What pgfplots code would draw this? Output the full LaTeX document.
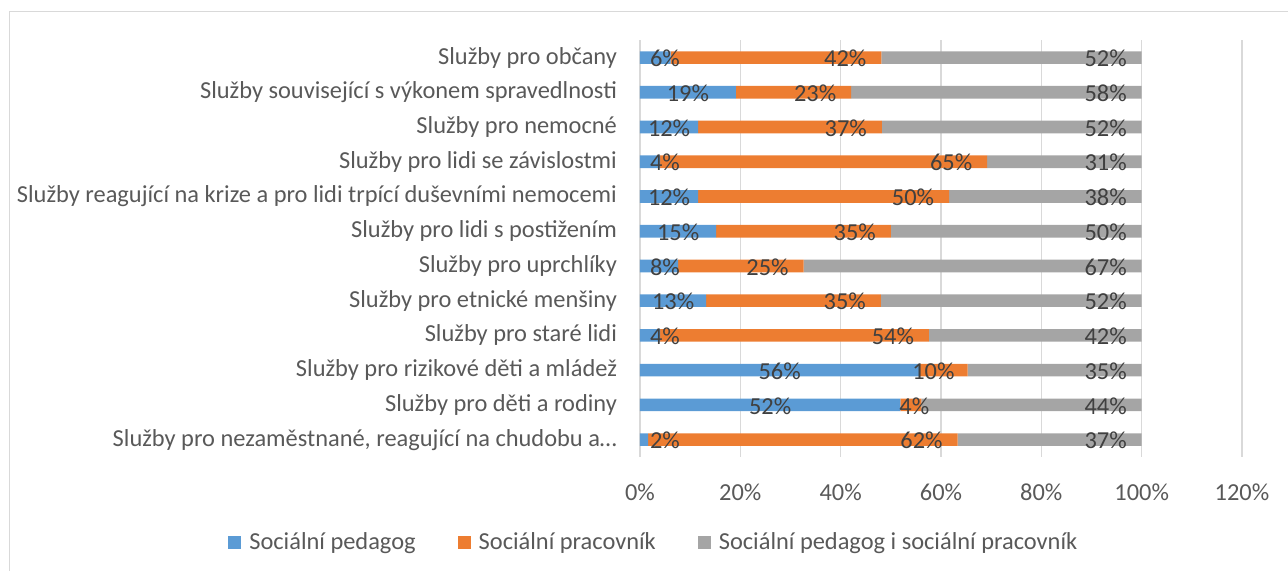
\documentclass[border=0pt]{standalone}
\usepackage{fontspec}
\setmainfont{Carlito}
\usepackage{pgfplots}
\pgfplotsset{compat=1.18}
\usepackage{pgfplotstable}

\definecolor{cPed}{HTML}{5B9BD5}
\definecolor{cPrac}{HTML}{ED7D31}
\definecolor{cOba}{HTML}{A5A5A5}
\definecolor{cGrid}{HTML}{D9D9D9}
\definecolor{cTick}{HTML}{595959}
\definecolor{cVal}{HTML}{404040}
\newcommand\lblfont{\fontsize{12.2}{14.6}\selectfont}
\newcommand\tickfont{\fontsize{12.2}{14.6}\selectfont}

% y = row from the bottom; shares in percent
\pgfplotstableread{
y  ped   prac  oba
0  1.6   61.7  36.7
1  51.9  4.2   43.9
2  55.7  9.6   34.7
3  4.0   53.6  42.4
4  13.2  34.8  52.0
5  7.6   25.0  67.4
6  15.2  34.8  50.0
7  11.6  50.0  38.4
8  4.0   65.2  30.8
9  11.6  36.6  51.8
10 19.1  23.0  57.9
11 6.1   42.0  51.9
}\sluzby

\begin{document}
\begin{tikzpicture}
\useasboundingbox (-320pt,-57pt) rectangle (324pt,228.5pt);
\draw[cGrid] (-315.5pt,-80pt) rectangle (340pt,223pt);
\begin{axis}[
    at={(0pt,0pt)}, anchor=south west,
    scale only axis, width=301pt, height=208.4pt,
    xbar stacked, bar width=6.3pt,
    xmin=0, xmax=120, ymin=-0.5, ymax=11.5,
    axis line style={draw=none}, major tick length=0pt,
    xmajorgrids, grid style={cGrid, line width=0.75pt},
    xtick={0,20,...,120},
    xticklabel={\pgfmathprintnumber{\tick}\%},
    ytick={0,...,11},
    yticklabels={{Služby pro nezaměstnané, reagující na chudobu a…},
        Služby pro děti a rodiny,
        Služby pro rizikové děti a mládež,
        Služby pro staré lidi,
        Služby pro etnické menšiny,
        Služby pro uprchlíky,
        Služby pro lidi s postižením,
        Služby reagující na krize a pro lidi trpící duševními nemocemi,
        Služby pro lidi se závislostmi,
        Služby pro nemocné,
        Služby související s výkonem spravedlnosti,
        Služby pro občany},
    /pgf/number format/assume math mode=true,
    tick label style={font=\tickfont, text=cTick},
    yticklabel style={xshift=-8pt},
    xticklabel style={yshift=-10pt},
    every axis plot/.append style={draw=none,
        visualization depends on={rawx \as \rawx}},
    point meta=rawx,
    nodes near coords={\pgfmathprintnumber[fixed,precision=0]{\pgfplotspointmeta}\%},
    % labels start at the segment centre: blue stays there, the others move to the end
    every node near coord/.append style={font=\lblfont, text=cVal, anchor=center,
        yshift=-0.5pt,
        xshift={\lblmode*max(0,-0.5*\rawx*2.50833+12.5)
            +(1-\lblmode)*max(0.5*\rawx*2.50833-18,-0.5*\rawx*2.50833+7)}},
    sq/.style={legend image code/.code={\fill[##1] (0pt,-3.25pt) rectangle (6.5pt,3.25pt);}},
    legend columns=3,
    legend style={at={(rel axis cs:0.028,-0.206)}, anchor=center, draw=none,
        font=\tickfont, text=cTick,
        nodes={inner xsep=4pt},
        /tikz/every even column/.append style={column sep=17pt}},
]
\addplot[fill=cPed, sq, visualization depends on={value 1 \as \lblmode}]
    table[x=ped, y=y] {\sluzby};
\addplot[fill=cPrac, sq, visualization depends on={value 0 \as \lblmode}]
    table[x=prac, y=y] {\sluzby};
\addplot[fill=cOba, sq, visualization depends on={value 0 \as \lblmode}]
    table[x=oba, y=y] {\sluzby};
\legend{Sociální pedagog, Sociální pracovník, Sociální pedagog i sociální pracovník}
\end{axis}
\end{tikzpicture}
\end{document}
